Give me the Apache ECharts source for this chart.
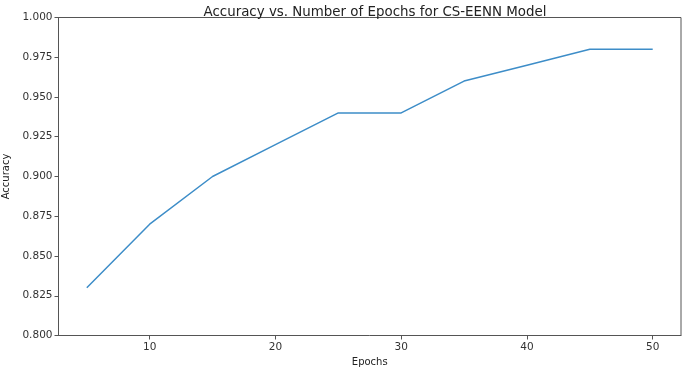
<!DOCTYPE html>
<html><head><meta charset="utf-8">
<script src="https://cdn.jsdelivr.net/npm/echarts@6/dist/echarts.min.js"></script>
<style>html,body{margin:0;padding:0;background:#fff}#c{width:685px;height:368px}</style>
</head><body><div id="c"></div>
<script>
const epochs = [5, 10, 15, 20, 25, 30, 35, 40, 45, 50];
const accuracy = [0.83, 0.87, 0.90, 0.92, 0.94, 0.94, 0.96, 0.97, 0.98, 0.98];
const xTicks = [10, 20, 30, 40, 50];
const titleText = 'Accuracy vs. Number of Epochs for CS-EENN Model';

const chart = echarts.init(document.getElementById('c'), null, {renderer: 'canvas'});
const font = 'DejaVu Sans';
const axisColor = '#555';
chart.setOption({
  animation: false,
  title: {text: titleText, left: 370, top: 1, textAlign: 'center',
    textStyle: {fontFamily: font, fontSize: 13.4, fontWeight: 'normal', color: '#222'}},
  grid: {left: 58.5, right: 4, top: 17.5, bottom: 32.5, containLabel: false, outerBoundsMode: 'none'},
  xAxis: {
    type: 'value', min: 2.75, max: 52.25,
    name: 'Epochs', nameLocation: 'middle', nameGap: 19,
    nameTextStyle: {fontFamily: font, fontSize: 10, color: '#222'},
    axisLine: {show: true, onZero: false, lineStyle: {color: axisColor, width: 1}},
    axisTick: {show: true, length: 4, customValues: xTicks, lineStyle: {color: axisColor}},
    axisLabel: {customValues: xTicks, fontFamily: font, fontSize: 10.5, color: '#333', margin: 6},
    splitLine: {show: false}
  },
  yAxis: {
    type: 'value', min: 0.8, max: 1.0, interval: 0.025,
    name: 'Accuracy', nameLocation: 'middle', nameGap: 45, nameRotate: 90,
    nameTextStyle: {fontFamily: font, fontSize: 10, color: '#222'},
    axisLine: {show: true, lineStyle: {color: axisColor, width: 1}},
    axisTick: {show: true, length: 4, lineStyle: {color: axisColor}},
    axisLabel: {fontFamily: font, fontSize: 10.5, color: '#333', margin: 6,
      formatter: v => v.toFixed(3)},
    splitLine: {show: false}
  },
  series: [{
    type: 'line', data: epochs.map((e, i) => [e, accuracy[i]]),
    symbol: 'none', lineStyle: {color: '#3d8dc8', width: 1.5}
  }],
  graphic: [
    {type: 'line', shape: {x1: 58.5, y1: 17.5, x2: 681, y2: 17.5}, style: {stroke: axisColor, lineWidth: 1}},
    {type: 'line', shape: {x1: 681, y1: 17.5, x2: 681, y2: 335.5}, style: {stroke: axisColor, lineWidth: 1}}
  ]
});
</script></body></html>
